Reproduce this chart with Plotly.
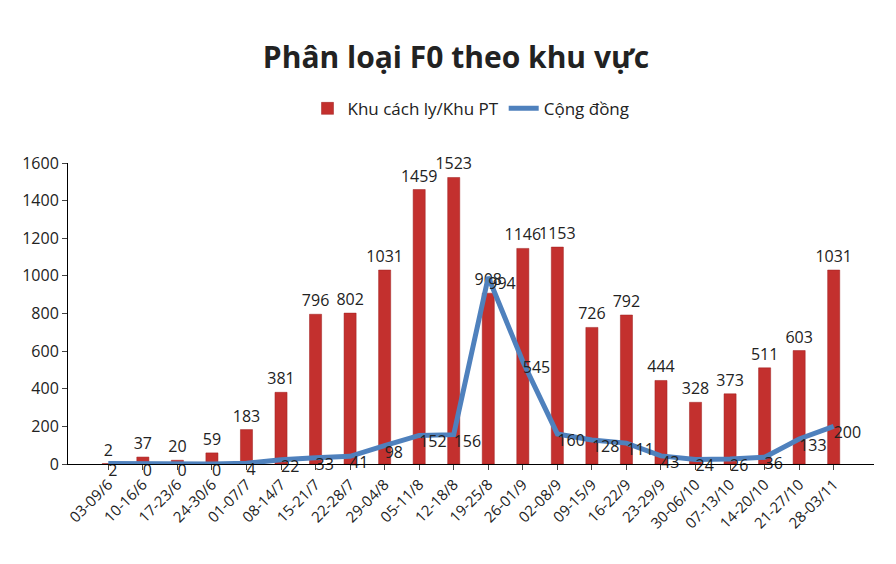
import plotly.graph_objects as go

categories = ["03-09/6","10-16/6","17-23/6","24-30/6","01-07/7","08-14/7","15-21/7","22-28/7",
              "29-04/8","05-11/8","12-18/8","19-25/8","26-01/9","02-08/9","09-15/9","16-22/9",
              "23-29/9","30-06/10","07-13/10","14-20/10","21-27/10","28-03/11"]
khu_cach_ly = [2,37,20,59,183,381,796,802,1031,1459,1523,908,1146,1153,726,792,444,328,373,511,603,1031]
cong_dong = [2,0,0,0,4,22,33,41,98,152,156,994,545,160,128,111,43,24,26,36,133,200]

fig = go.Figure()
fig.add_trace(go.Bar(x=categories, y=khu_cach_ly, name="Khu cách ly/Khu PT",
                     marker=dict(color="#c3302e", line=dict(color="#9e1f1f", width=0.5)),
                     width=0.35, text=khu_cach_ly, textposition="outside", textangle=0,
                     constraintext="none",
                     textfont=dict(size=16, color="#222"), cliponaxis=False))
fig.add_trace(go.Scatter(x=categories, y=cong_dong, name="Cộng đồng", mode="lines+text",
                         line=dict(color="#4f81bd", width=5), text=cong_dong,
                         textposition="bottom right", textfont=dict(size=16, color="#222"),
                         cliponaxis=False))
fig.update_layout(
    width=896, height=564, plot_bgcolor="white", paper_bgcolor="white",
    font=dict(family="Open Sans", color="#222"),
    title=dict(text="<b>Phân loại F0 theo khu vực</b>", x=0.5, y=0.93, xanchor="center",
               font=dict(size=30, family="Open Sans")),
    legend=dict(orientation="h", x=0.5, xanchor="center", y=1.18, yanchor="middle",
                font=dict(size=17)),
    margin=dict(l=60, r=30, t=155, b=108),
    bargap=0.5, showlegend=True,
)
fig.update_xaxes(showline=True, linecolor="black", ticks="outside", tickangle=-45,
                 tickfont=dict(size=15))
fig.update_yaxes(range=[0, 1600], dtick=200, showline=True, linecolor="black", ticks="outside",
                 showgrid=False, tickfont=dict(size=16), zeroline=False)
fig.write_html("out.html")
